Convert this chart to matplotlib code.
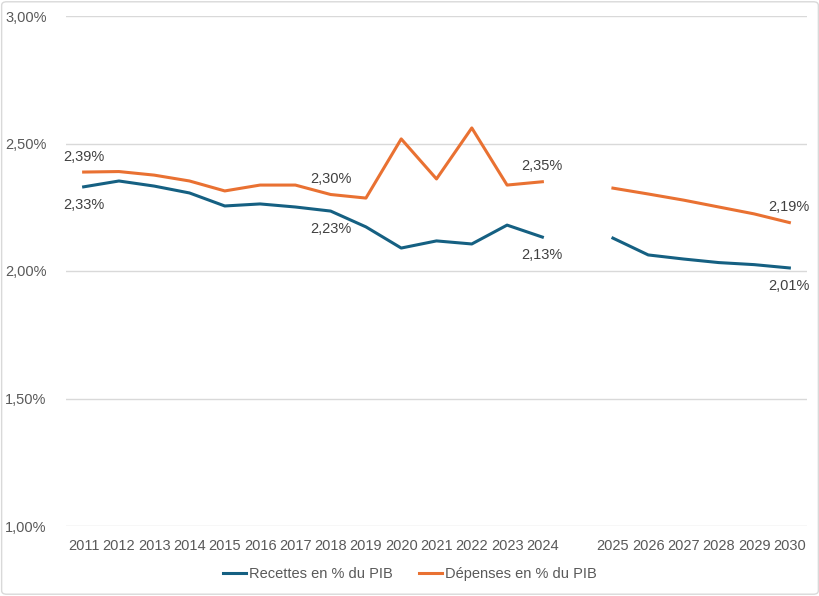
import numpy as np
import matplotlib
matplotlib.use("Agg")
import matplotlib.pyplot as plt
from matplotlib.patches import FancyBboxPatch

plt.rcParams['font.family'] = ['Liberation Sans Narrow', 'Liberation Sans', 'DejaVu Sans']

years_hist = ["2011", "2012", "2013", "2014", "2015", "2016", "2017",
              "2018", "2019", "2020", "2021", "2022", "2023", "2024"]
years_proj = ["2025", "2026", "2027", "2028", "2029", "2030"]

recettes_hist = [2.33, 2.353, 2.333, 2.306, 2.255, 2.263, 2.251,
                 2.235, 2.173, 2.09, 2.118, 2.106, 2.18, 2.133]
recettes_proj = [2.129, 2.063, 2.047, 2.033, 2.025, 2.012]

depenses_hist = [2.388, 2.39, 2.376, 2.353, 2.314, 2.337, 2.337,
                 2.30, 2.286, 2.518, 2.361, 2.561, 2.337, 2.35]
depenses_proj = [2.325, 2.302, 2.278, 2.251, 2.224, 2.19]

yticks = [1.0, 1.5, 2.0, 2.5, 3.0]

labels_x = ["2011", "2018", "2024", "2030"]

blue = "#156082"
orange = "#E97132"
text_col = "#595959"

cats = years_hist + [""] + years_proj
rec = recettes_hist + [np.nan] + recettes_proj
dep = depenses_hist + [np.nan] + depenses_proj
x = np.arange(len(cats))

fig = plt.figure(figsize=(8.2, 5.96), dpi=100)
ax = fig.add_axes([66/820, 1-526/596, (807-66)/820, (526-16)/596])

ax.plot(x, rec, color=blue, lw=2.2, solid_joinstyle='round', label="Recettes en % du PIB", zorder=3)
ax.plot(x, dep, color=orange, lw=2.2, solid_joinstyle='round', label="Dépenses en % du PIB", zorder=3)

ax.set_xlim(-0.5, len(cats) - 0.5)
ax.set_ylim(1.0, 3.0)
ax.set_yticks(yticks)
ax.set_yticklabels([f"{v:.2f}%".replace(".", ",") for v in yticks])
ax.set_xticks(x)
ax.set_xticklabels(cats)
ax.tick_params(axis='both', length=0, labelsize=10.5, colors=text_col)
ax.tick_params(axis='x', pad=9)
ax.tick_params(axis='y', pad=14)
ax.grid(axis='y', color="#D9D9D9", lw=1)
ax.set_axisbelow(True)
for s in ax.spines.values():
    s.set_visible(False)

for yr in labels_x:
    i = cats.index(yr)
    ax.annotate(f"{dep[i]:.2f}%".replace(".", ","), (x[i], dep[i]), xytext=(0, 6),
                textcoords='offset points', ha='center', va='bottom',
                fontsize=10.5, color="#404040")
    ax.annotate(f"{rec[i]:.2f}%".replace(".", ","), (x[i], rec[i]), xytext=(0, -8),
                textcoords='offset points', ha='center', va='top',
                fontsize=10.5, color="#404040")

leg = fig.legend(loc='center', bbox_to_anchor=(0.5, 1-574/596), ncol=2, frameon=False,
                 fontsize=10.5, handlelength=1.6, handletextpad=0.2, columnspacing=1.8)
for t in leg.get_texts():
    t.set_color(text_col)

border = FancyBboxPatch((0.002, 0.003), 0.996, 0.994, boxstyle="round,pad=0,rounding_size=0.006",
                        transform=fig.transFigure, fill=False, edgecolor="#D9D9D9", lw=1)
fig.patches.append(border)

fig.savefig("out.png", dpi=100)
